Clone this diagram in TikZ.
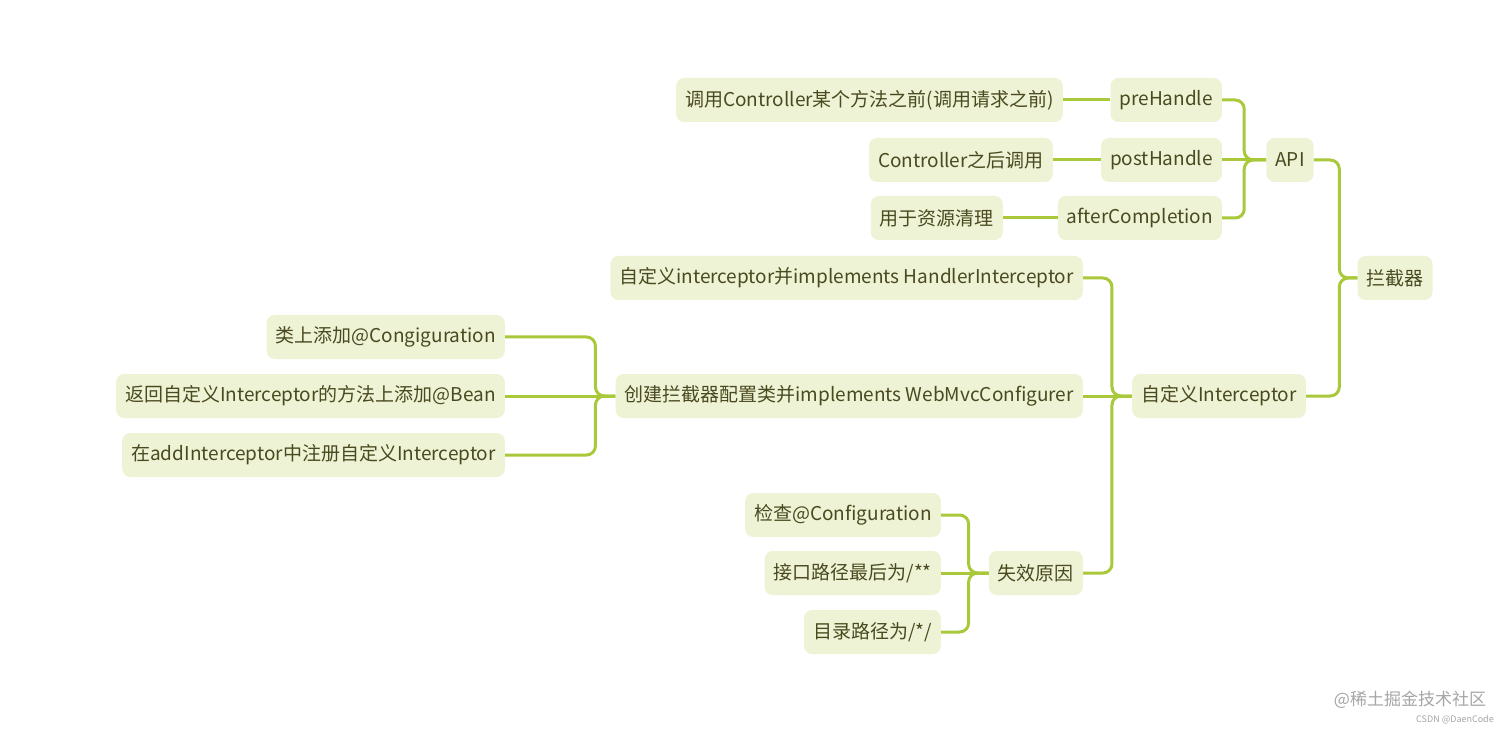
\documentclass[tikz,border=0pt]{standalone}
\usepackage{fontspec}
\setmainfont{Noto Sans CJK SC}
\begin{document}
\begin{tikzpicture}[x=1pt,y=1pt,
  box/.style={fill=boxfill,text=txt,rounded corners=8pt,minimum height=44pt,inner xsep=9pt,font=\fontsize{19}{22}\selectfont},
  conn/.style={draw=lk,line width=3pt,rounded corners=9pt}]
\definecolor{boxfill}{HTML}{EFF3D5}
\definecolor{txt}{HTML}{4A4A20}
\definecolor{lk}{HTML}{A9C83A}
\useasboundingbox (0,0) rectangle (1512,732);
\fill[white] (0,0) rectangle (1512,732);
\def\Y#1{732-#1}
\node[box] (root) at (1395,{\Y{278}}) {拦截器};
\node[box] (api) at (1290,{\Y{160}}) {API};
\node[box] (ci) at (1219,{\Y{396}}) {自定义Interceptor};
\node[box,anchor=east] (pre) at (1222,{\Y{100}}) {preHandle};
\node[box,anchor=east] (post) at (1222,{\Y{160}}) {postHandle};
\node[box,anchor=east] (after) at (1222,{\Y{218}}) {afterCompletion};
\node[box,anchor=east] (preD) at (1063,{\Y{100}}) {调用Controller某个方法之前(调用请求之前)};
\node[box,anchor=east] (postD) at (1053,{\Y{160}}) {Controller之后调用};
\node[box,anchor=east] (afterD) at (1003,{\Y{218}}) {用于资源清理};
\node[box,anchor=east] (impl) at (1083,{\Y{278}}) {自定义interceptor并implements HandlerInterceptor};
\node[box,anchor=east] (cfg) at (1083,{\Y{396}}) {创建拦截器配置类并implements WebMvcConfigurer};
\node[box,anchor=east] (fail) at (1083,{\Y{573}}) {失效原因};
\node[box,anchor=east] (c1) at (505,{\Y{337}}) {类上添加@Congiguration};
\node[box,anchor=east] (c2) at (505,{\Y{396}}) {返回自定义Interceptor的方法上添加@Bean};
\node[box,anchor=east] (c3) at (505,{\Y{455}}) {在addInterceptor中注册自定义Interceptor};
\node[box,anchor=east] (f1) at (941,{\Y{515}}) {检查@Configuration};
\node[box,anchor=east] (f2) at (941,{\Y{573}}) {接口路径最后为/**};
\node[box,anchor=east] (f3) at (941,{\Y{632}}) {目录路径为/*/};
% connectors
\draw[conn] (root.west) -- ++(-18,0) |- (api.east);
\draw[conn] (root.west) -- ++(-18,0) |- (ci.east);
\draw[conn] (api.west) -- ++(-22,0) |- (pre.east);
\draw[conn] (api.west) -- (post.east);
\draw[conn] (api.west) -- ++(-22,0) |- (after.east);
\draw[conn] (pre.west) -- (preD.east);
\draw[conn] (post.west) -- (postD.east);
\draw[conn] (after.west) -- (afterD.east);
\draw[conn] (ci.west) -- ++(-20,0) |- (impl.east);
\draw[conn] (ci.west) -- (cfg.east);
\draw[conn] (ci.west) -- ++(-20,0) |- (fail.east);
\draw[conn] (cfg.west) -- ++(-20,0) |- (c1.east);
\draw[conn] (cfg.west) -- (c2.east);
\draw[conn] (cfg.west) -- ++(-20,0) |- (c3.east);
\draw[conn] (fail.west) -- ++(-20,0) |- (f1.east);
\draw[conn] (fail.west) -- (f2.east);
\draw[conn] (fail.west) -- ++(-20,0) |- (f3.east);
\node[text=gray!70,font=\fontsize{17}{20}\selectfont] (wm) at (1410,{\Y{700}}) {@稀土掘金技术社区};
\node[text=gray!70,font=\fontsize{9}{11}\selectfont] (cs) at (1455,{\Y{720}}) {CSDN @DaenCode};
\end{tikzpicture}
\end{document}
